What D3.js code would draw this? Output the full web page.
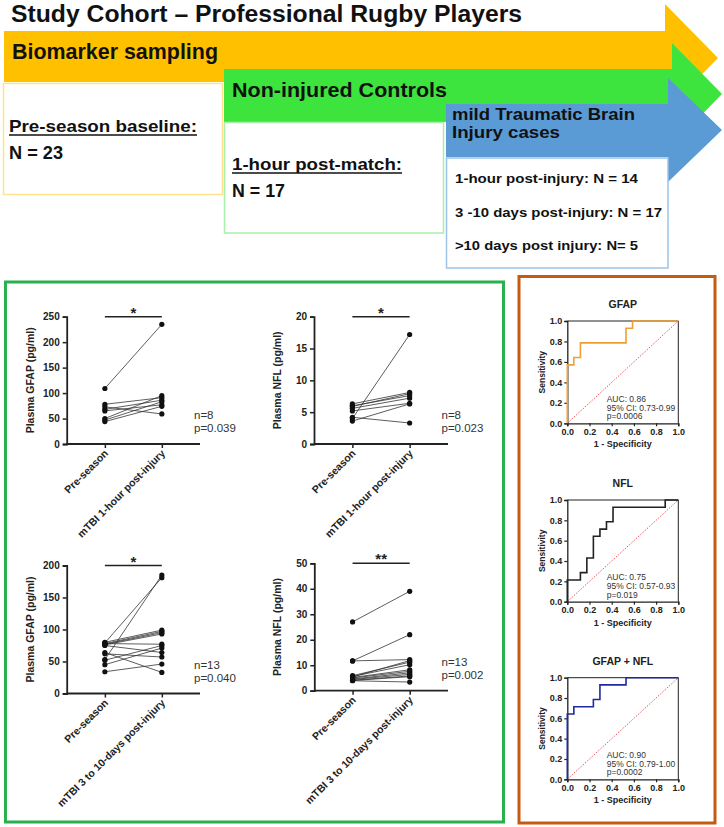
<!DOCTYPE html>
<html><head><meta charset="utf-8">
<script src="https://cdn.jsdelivr.net/npm/d3@7/dist/d3.min.js"></script>
<style>
body{margin:0;background:#fff}
svg{display:block}
text{font-family:"Liberation Sans",Arial,sans-serif}
</style>
</head><body>
<svg id="c" width="724" height="827"></svg>
<script>
// ---------------- data ----------------
const titleText = "Study Cohort \u2013 Professional Rugby Players";
const stageLabels = ["Biomarker sampling", "Non-injured Controls"];
const mtbiHeader = ["mild Traumatic Brain", "Injury cases"];
const preseasonLines = ["Pre-season baseline:", "N = 23"];
const controlLines = ["1-hour post-match:", "N = 17"];
const mtbiLines = ["1-hour post-injury: N = 14", "3 -10 days post-injury: N = 17", ">10 days post injury: N= 5"];

const cats1h = ["Pre-season", "mTBI 1-hour post-injury"];
const cats3d = ["Pre-season", "mTBI 3 to 10-days post-injury"];

const gfap1hPre  = [109, 78, 73, 68, 65, 50, 47, 44];
const gfap1hPost = [235, 91, 59, 86, 77, 95, 83, 74];
const nfl1hPre   = [4.0, 4.2, 6.3, 5.9, 5.6, 5.2, 3.6, 6.0];
const nfl1hPost  = [17.2, 3.3, 8.1, 7.9, 7.2, 6.4, 6.3, 7.6];
const gfap3dPre  = [79, 53, 80, 78, 77, 76, 78, 64, 62, 52, 45, 34, 75];
const gfap3dPost = [181, 185, 99, 97, 95, 93, 77, 33, 57, 75, 71, 46, 64];
const nfl3dPre   = [27, 11.7, 11.7, 5.9, 5.6, 5.2, 5.0, 4.6, 4.4, 4.1, 4.0, 3.9, 5.4];
const nfl3dPost  = [39, 22, 12.2, 11.2, 10.2, 8.2, 7.6, 7.0, 6.4, 5.8, 5.5, 3.4, 11.8];

const gfap1hTicks = [0, 50, 100, 150, 200, 250];
const nfl1hTicks  = [0, 5, 10, 15, 20];
const gfap3dTicks = [0, 50, 100, 150, 200];
const nfl3dTicks  = [0, 10, 20, 30, 40, 50];

const gfapLabel = "Plasma GFAP (pg/ml)";
const nflLabel  = "Plasma NFL (pg/ml)";
const statsGfap1h = ["n=8", "p=0.039"];
const statsNfl1h  = ["n=8", "p=0.023"];
const statsGfap3d = ["n=13", "p=0.040"];
const statsNfl3d  = ["n=13", "p=0.002"];
const sigMarks = ["*", "*", "*", "**"];

const rocTitles = ["GFAP", "NFL", "GFAP + NFL"];
const rocGfapFpr = [0, 0, 0.059, 0.059, 0.118, 0.118, 0.529, 0.529, 0.588, 0.588, 1];
const rocGfapTpr = [0, 0.571, 0.571, 0.643, 0.643, 0.786, 0.786, 0.929, 0.929, 1, 1];
const rocNflFpr  = [0, 0, 0.118, 0.118, 0.176, 0.176, 0.235, 0.235, 0.294, 0.294, 0.353, 0.353, 0.412, 0.412, 0.882, 0.882, 1];
const rocNflTpr  = [0, 0.214, 0.214, 0.286, 0.286, 0.429, 0.429, 0.643, 0.643, 0.714, 0.714, 0.786, 0.786, 0.929, 0.929, 1, 1];
const rocCombFpr = [0, 0, 0.059, 0.059, 0.235, 0.235, 0.294, 0.294, 0.529, 0.529, 1];
const rocCombTpr = [0, 0.643, 0.643, 0.714, 0.714, 0.786, 0.786, 0.929, 0.929, 1, 1];
const rocTicks = [0, 0.2, 0.4, 0.6, 0.8, 1.0];
const rocStatsGfap = ["AUC: 0.86", "95% CI: 0.73-0.99", "p=0.0006"];
const rocStatsNfl  = ["AUC: 0.75", "95% CI: 0.57-0.93", "p=0.019"];
const rocStatsComb = ["AUC: 0.90", "95% CI: 0.79-1.00", "p=0.0002"];

// ---------------- drawing ----------------
const svg = d3.select("#c");
svg.append("rect").attr("width", 724).attr("height", 827).attr("fill", "#fff");

function arrow(x0, yT, yB, xb, hT, hB, xt, ty, fill) {
  const pts = [[x0, yT], [xb, yT], [xb, hT], [xt, ty], [xb, hB], [xb, yB], [x0, yB]];
  svg.append("path").attr("d", d3.line()(pts) + "Z").attr("fill", fill);
}
arrow(4, 31, 82, 665, 4, 112, 718, 58, "#FFC000");
arrow(224, 69, 122, 672, 43, 145, 722, 94, "#3DE43D");
arrow(446, 104, 157, 668, 78, 182, 722, 130, "#5B9BD5");

svg.append("rect").attr("x", 3.5).attr("y", 83.5).attr("width", 219).attr("height", 111)
  .attr("fill", "#fff").attr("stroke", "#FFE38C").attr("stroke-width", 1.5);
svg.append("rect").attr("x", 224.5).attr("y", 122.5).attr("width", 219).attr("height", 110.5)
  .attr("fill", "#fff").attr("stroke", "#A8EFA8").attr("stroke-width", 1.5);
svg.append("rect").attr("x", 446.5).attr("y", 158).attr("width", 221.5).attr("height", 110)
  .attr("fill", "#fff").attr("stroke", "#9DC3E6").attr("stroke-width", 1.5);

// header text helper: fits text to measured width
function htext(str, x, y, size, width, opts = {}) {
  const t = svg.append("text").attr("x", x).attr("y", y).attr("font-size", size)
    .attr("font-weight", "bold").attr("fill", "#111").text(str);
  if (opts.family) t.attr("font-family", opts.family);
  if (width) t.attr("textLength", width).attr("lengthAdjust", "spacingAndGlyphs");
  if (opts.underline) {
    svg.append("line").attr("x1", x).attr("x2", x + width).attr("y1", y + 3).attr("y2", y + 3)
      .attr("stroke", "#111").attr("stroke-width", 1.4);
  }
  return t;
}
htext(titleText, 11, 21.5, 23.5, 511);
htext(stageLabels[0], 12, 59, 21.5, 206);
htext(stageLabels[1], 232, 97, 21, 215);
htext(mtbiHeader[0], 452, 120, 17, 183);
htext(mtbiHeader[1], 452, 138, 17, 108);
htext(preseasonLines[0], 9, 132, 17, 188, {underline: true});
htext(preseasonLines[1], 9, 159, 17.5, 54);
htext(controlLines[0], 232, 170, 17, 170, {underline: true});
htext(controlLines[1], 232, 197, 17.5, 53);
const mtbiWidths = [183, 207, 183];
mtbiLines.forEach((s, i) => htext(s, 455, 183 + i * 33.5, 13.5, mtbiWidths[i], {family: "Lato, 'Open Sans', sans-serif"}));

// panel borders
svg.append("rect").attr("x", 5.5).attr("y", 282).attr("width", 498).attr("height", 540)
  .attr("fill", "none").attr("stroke", "#2BB04E").attr("stroke-width", 3);
svg.append("rect").attr("x", 519).attr("y", 276.5).attr("width", 196).attr("height", 546.5)
  .attr("fill", "none").attr("stroke", "#C55A11").attr("stroke-width", 3);

// paired scatter
function paired(o) {
  const g = svg.append("g");
  const x = d3.scalePoint().domain(o.cats).range([o.x0, o.x1]).padding(0.67);
  const y = d3.scaleLinear().domain([0, d3.max(o.ticks)]).range([o.yBot, o.yTop]);
  const yAx = g.append("g").attr("transform", `translate(${o.x0},0)`)
    .call(d3.axisLeft(y).tickValues(o.ticks).tickSize(4).tickPadding(3));
  const xAx = g.append("g").attr("transform", `translate(0,${o.yBot})`)
    .call(d3.axisBottom(x).tickSize(4).tickFormat(""));
  [yAx, xAx].forEach(a => {
    a.select(".domain").attr("stroke", "#222").attr("stroke-width", 1.8);
    a.selectAll(".tick line").attr("stroke", "#222").attr("stroke-width", 1.5);
  });
  xAx.select(".domain").attr("d", `M${o.x0},0H${o.x1}`);
  yAx.selectAll(".tick text").attr("font-size", 10).attr("font-weight", "bold")
    .attr("font-family", "Liberation Sans, Arial").attr("fill", "#222");
  g.selectAll(".cl").data(o.cats).join("text")
    .attr("transform", d => `translate(${x(d) + 4},${o.yBot + 10}) rotate(-45)`)
    .attr("text-anchor", "end").attr("font-size", 10.5).attr("font-weight", "bold").attr("fill", "#222")
    .text(d => d);
  const pairs = o.pre.map((v, i) => [v, o.post[i]]);
  g.selectAll(".pl").data(pairs).join("line")
    .attr("x1", x(o.cats[0])).attr("x2", x(o.cats[1]))
    .attr("y1", d => y(d[0])).attr("y2", d => y(d[1]))
    .attr("stroke", "#333").attr("stroke-width", 0.8);
  g.selectAll(".d0").data(o.pre).join("circle").attr("cx", x(o.cats[0])).attr("cy", d => y(d)).attr("r", 2.6).attr("fill", "#111");
  g.selectAll(".d1").data(o.post).join("circle").attr("cx", x(o.cats[1])).attr("cy", d => y(d)).attr("r", 2.6).attr("fill", "#111");
  g.append("line").attr("x1", x(o.cats[0])).attr("x2", x(o.cats[1])).attr("y1", o.yTop).attr("y2", o.yTop)
    .attr("stroke", "#222").attr("stroke-width", 1.6);
  g.append("text").attr("x", (x(o.cats[0]) + x(o.cats[1])) / 2).attr("y", o.yTop + 1).attr("text-anchor", "middle")
    .attr("font-size", 15).attr("font-weight", "bold").attr("fill", "#222").text(o.sig);
  g.append("text").attr("transform", `translate(${o.x0 - 33},${(o.yTop + o.yBot) / 2}) rotate(-90)`)
    .attr("text-anchor", "middle").attr("font-size", 10.5).attr("font-weight", "bold").attr("fill", "#222").text(o.ylabel);
  g.selectAll(".st").data(o.stats).join("text").attr("x", o.statX).attr("y", (d, i) => o.yBot - 25 + i * 13)
    .attr("font-size", 11.5).attr("fill", "#333").text(d => d);
}

paired({x0: 66.7, x1: 200, yTop: 316.7, yBot: 444, ticks: gfap1hTicks, cats: cats1h, pre: gfap1hPre, post: gfap1hPost,
  ylabel: gfapLabel, stats: statsGfap1h, statX: 194, sig: sigMarks[0]});
paired({x0: 314, x1: 448, yTop: 316.7, yBot: 444, ticks: nfl1hTicks, cats: cats1h, pre: nfl1hPre, post: nfl1hPost,
  ylabel: nflLabel, stats: statsNfl1h, statX: 441.5, sig: sigMarks[1]});
paired({x0: 66.7, x1: 200, yTop: 565.5, yBot: 693.5, ticks: gfap3dTicks, cats: cats3d, pre: gfap3dPre, post: gfap3dPost,
  ylabel: gfapLabel, stats: statsGfap3d, statX: 194, sig: sigMarks[2]});
paired({x0: 314.3, x1: 448, yTop: 563.3, yBot: 690.7, ticks: nfl3dTicks, cats: cats3d, pre: nfl3dPre, post: nfl3dPost,
  ylabel: nflLabel, stats: statsNfl3d, statX: 441.5, sig: sigMarks[3]});

// ROC plots
function roc(o) {
  const g = svg.append("g");
  const x = d3.scaleLinear().domain([0, 1]).range([567.3, 678.3]);
  const y = d3.scaleLinear().domain([0, 1]).range([o.yBot, o.yTop]);
  const fmt = d3.format(".1f");
  g.append("path").attr("d", `M${x(0)},${y(1)}H${x(1)}V${y(0)}`).attr("fill", "none").attr("stroke", "#222").attr("stroke-width", 1);
  g.append("line").attr("x1", x(0)).attr("y1", y(0)).attr("x2", x(1)).attr("y2", y(1))
    .attr("stroke", "#E8414A").attr("stroke-width", 0.9).attr("stroke-dasharray", "1.5,1.5");
  const xa = g.append("g").attr("transform", `translate(0,${o.yBot})`)
    .call(d3.axisBottom(x).tickValues(rocTicks).tickFormat(fmt).tickSize(3).tickPadding(2));
  const ya = g.append("g").attr("transform", `translate(${x(0)},0)`)
    .call(d3.axisLeft(y).tickValues(rocTicks).tickFormat(fmt).tickSize(3).tickPadding(2));
  [xa, ya].forEach(a => {
    a.select(".domain").attr("stroke", "#222").attr("stroke-width", 1.3);
    a.selectAll(".tick line").attr("stroke", "#222").attr("stroke-width", 1.2);
    a.selectAll(".tick text").attr("font-size", 9).attr("font-weight", "bold").attr("fill", "#222")
      .attr("font-family", "Liberation Sans, Arial");
  });
  const pts = o.fpr.map((f, i) => [x(f), y(o.tpr[i])]);
  g.append("path").attr("d", d3.line()(pts)).attr("fill", "none").attr("stroke", o.color).attr("stroke-width", 1.6);
  g.append("text").attr("x", 622.8).attr("y", o.yTop - 13).attr("text-anchor", "middle")
    .attr("font-size", 10.5).attr("font-weight", "bold").attr("fill", "#222").text(o.title);
  g.append("text").attr("transform", `translate(544.5,${(o.yTop + o.yBot) / 2}) rotate(-90)`).attr("text-anchor", "middle")
    .attr("font-size", 8.5).attr("font-weight", "bold").attr("fill", "#222").text("Sensitivity");
  g.append("text").attr("x", 622.8).attr("y", o.yBot + 24).attr("text-anchor", "middle")
    .attr("font-size", 9).attr("font-weight", "bold").attr("fill", "#222").text("1 - Specificity");
  g.selectAll(".rs").data(o.stats).join("text").attr("x", 606.7).attr("y", (d, i) => o.yBot - 21.5 + i * 8.8)
    .attr("font-size", 8.5).attr("fill", "#333").text(d => d);
}
roc({yTop: 321, yBot: 423.3, fpr: rocGfapFpr, tpr: rocGfapTpr, color: "#F0A032", title: rocTitles[0], stats: rocStatsGfap});
roc({yTop: 500, yBot: 601.7, fpr: rocNflFpr, tpr: rocNflTpr, color: "#222", title: rocTitles[1], stats: rocStatsNfl});
roc({yTop: 677.7, yBot: 779.3, fpr: rocCombFpr, tpr: rocCombTpr, color: "#1E2AA0", title: rocTitles[2], stats: rocStatsComb});
</script>
</body></html>
